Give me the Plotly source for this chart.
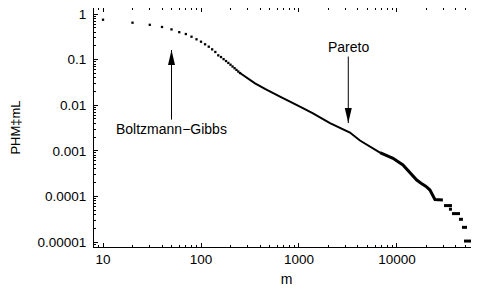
import math
import plotly.graph_objects as go

# ---- data ----
dot_m = [10, 20, 30, 40, 50, 60, 70, 80, 90, 100, 110, 120, 130, 140, 150,
         160, 170, 180, 190, 200, 210, 220, 230, 240, 250]
dot_p = [0.75, 0.645, 0.58, 0.52, 0.46, 0.40, 0.364, 0.318, 0.279, 0.247,
         0.217, 0.192, 0.168, 0.147, 0.124, 0.114, 0.1026, 0.0931, 0.0847,
         0.0773, 0.0706, 0.0648, 0.0595, 0.0548, 0.0508]

mid_m = [250, 302, 356, 450, 569, 640, 1023, 1390, 2072, 2620, 3311, 4190,
         4940, 6710]
mid_p = [0.0508, 0.0385, 0.0302, 0.0227, 0.0178, 0.0155, 0.00927, 0.00664,
         0.00407, 0.00324, 0.00252, 0.00168, 0.00134, 0.000918]

tail_m = [6710, 9110, 11500, 13580, 15900, 17600, 19800, 21700, 23300,
          24400, 29400]
tail_p = [0.000918, 0.000685, 0.000489, 0.000334, 0.000229, 0.000194,
          0.000165, 0.000138, 0.000102, 8.55e-5, 8.4e-5]

step_p = [6.3e-5, 5.25e-5, 4.2e-5, 3.15e-5, 2.1e-5, 1.05e-5]
step_m0 = [30200, 33900, 36400, 42900, 46100, 48300]
step_m1 = [36400, 36400, 44000, 47100, 51800, 59600]

x_tickvals = [10, 100, 1000, 10000]
x_ticktext = ["10", "100", "1000", "10000"]
y_tickvals = [1, 0.1, 0.01, 0.001, 0.0001, 0.00001]
y_ticktext = ["1", "0.1", "0.01", "0.001", "0.0001", "0.00001"]

bg_label = "Boltzmann−Gibbs"
bg_tip = (50, 0.162)
pareto_label = "Pareto"
pareto_tip = (3184, 0.00407)

FONT = "Liberation Sans, Arial, sans-serif"

x_minor = [d * 10 ** e for e in range(0, 5) for d in range(2, 10)]
y_minor = [d * 10.0 ** e for e in range(-6, 1) for d in range(2, 10)]

fig = go.Figure()
fig.add_trace(go.Scatter(x=dot_m, y=dot_p, mode="markers",
                         marker=dict(symbol="square", size=2.3, color="black",
                                     line=dict(width=0)),
                         hoverinfo="skip"))
fig.add_trace(go.Scatter(x=mid_m, y=mid_p, mode="lines",
                         line=dict(color="black", width=2), hoverinfo="skip"))
fig.add_trace(go.Scatter(x=tail_m, y=tail_p, mode="lines",
                         line=dict(color="black", width=3), hoverinfo="skip"))
sx, sy = [], []
for p, a, b in zip(step_p, step_m0, step_m1):
    sx += [a, b, None]
    sy += [p, p, None]
fig.add_trace(go.Scatter(x=sx, y=sy, mode="lines",
                         line=dict(color="black", width=3), hoverinfo="skip"))

annotations = []
shapes = []
for label, (tx, ty), ay, direction in [(bg_label, bg_tip, 79, 1),
                                        (pareto_label, pareto_tip, -76, -1)]:
    annotations.append(dict(x=math.log10(tx), y=math.log10(ty), xref="x", yref="y",
                            text=label, showarrow=True, arrowhead=0, arrowwidth=1,
                            arrowcolor="black", ax=0, ay=ay,
                            font=dict(family=FONT, size=14, color="black")))
    shapes.append(dict(type="path", xref="x", yref="y",
                       xsizemode="pixel", ysizemode="pixel",
                       xanchor=tx, yanchor=ty,
                       path=f"M0,0 L-3.5,{-15*direction} L3.5,{-15*direction} Z",
                       fillcolor="black", line=dict(width=0)))

def axis_common(minor_vals):
    return dict(showgrid=False, zeroline=False, showline=True, linecolor="black",
                linewidth=1, mirror="allticks", ticks="inside", ticklen=4,
                tickwidth=1, tickcolor="black", automargin=False,
                ticklabeloverflow="allow",
                tickfont=dict(family=FONT, size=13.5, color="black"),
                minor=dict(ticks="inside", ticklen=2, tickwidth=1,
                           tickcolor="black", showgrid=False, tickvals=minor_vals))

# the page body adds an 8px offset; the figure is sized so the plot lands
# where the reference frame is
fig.update_layout(
    width=471, height=284,
    margin=dict(l=86, r=0, t=0, b=45),
    paper_bgcolor="white", plot_bgcolor="white",
    showlegend=False,
    annotations=annotations, shapes=shapes,
    xaxis=dict(type="log", range=[0.908, 4.837], tickvals=x_tickvals,
               ticktext=x_ticktext, ticklabelstandoff=0,
               title=dict(text="m", font=dict(family=FONT, size=14, color="black"),
                          standoff=7),
               **axis_common(x_minor)),
    yaxis=dict(type="log", range=[-5.109, 0.132], tickvals=y_tickvals,
               ticktext=y_ticktext, ticklabelstandoff=4,
               title=dict(text="PHM‡mL", font=dict(family=FONT, size=13, color="black"),
                          standoff=18),
               **axis_common(y_minor)),
)

fig.write_html("out.html")
